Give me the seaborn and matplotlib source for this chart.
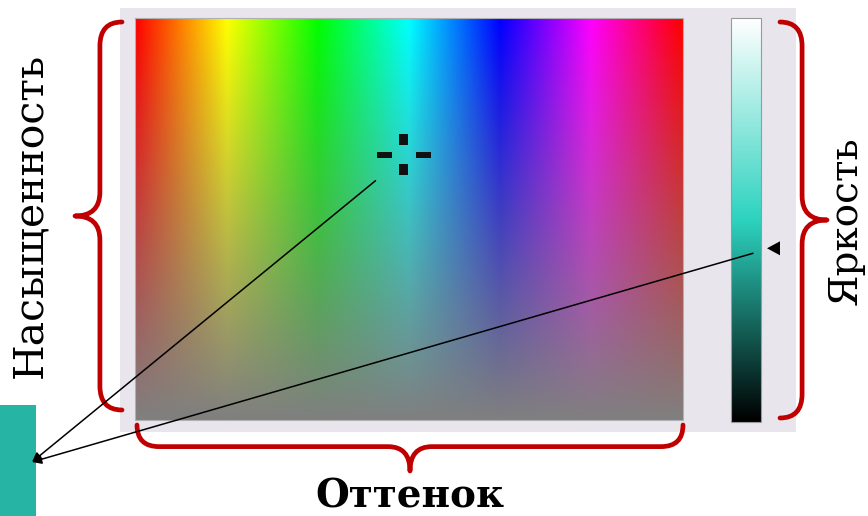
"""
Colour picker diagram: hue / saturation field, brightness strip and the
resulting swatch, with braces naming each axis.
"""

import colorsys

import matplotlib.pyplot as plt
import numpy as np
import seaborn as sns
from matplotlib.patches import PathPatch, Polygon, Rectangle
from matplotlib.path import Path

sns.set_theme(style="white")
plt.rcParams["font.family"] = ["DejaVu Serif", "DejaVu Sans"]

# --- data -----------------------------------------------------------------
hue_label = "Оттенок"
sat_label = "Насыщенность"
lum_label = "Яркость"

picked_hue = 0.49          # fraction of the hue axis (left -> right)
picked_sat = 0.66          # saturation at the cross (top = 1)
picked_hls = (173 / 360, 0.43, 0.65)   # hue, lightness, saturation of the swatch
swatch_color = "#26b5a5"

RED = "#c00000"
PANEL = "#e8e6ec"

# --- geometry (pixels) ----------------------------------------------------
W, H = 868, 516
spec = (135, 683, 18, 420)     # left, right, top, bottom
strip = (731, 761, 18, 422)


def hsl_field(hues, sats, light):
    rgb = np.zeros((len(sats), len(hues), 3))
    for i, s in enumerate(sats):
        for j, h in enumerate(hues):
            rgb[i, j] = colorsys.hls_to_rgb(h, light, s)
    return rgb


def brace(ax, p0, p1, depth, r, lw=3.4):
    """Curly brace from p0 to p1, tip pointing to the left of p0->p1."""
    p0, p1 = np.array(p0, float), np.array(p1, float)
    L = np.linalg.norm(p1 - p0)
    u = (p1 - p0) / L
    n = np.array([u[1], -u[0]])
    mid = depth * 0.47

    def P(a, b):
        return p0 + a * u + b * n

    verts = [
        P(0, 0), P(0, mid), P(r, mid),
        P(L / 2 - r, mid), P(L / 2, mid), P(L / 2, depth),
        P(L / 2, mid), P(L / 2 + r, mid),
        P(L - r, mid), P(L, mid), P(L, 0),
    ]
    codes = [Path.MOVETO, Path.CURVE3, Path.CURVE3,
             Path.LINETO, Path.CURVE3, Path.CURVE3,
             Path.CURVE3, Path.CURVE3,
             Path.LINETO, Path.CURVE3, Path.CURVE3]
    ax.add_patch(PathPatch(Path(verts, codes), fill=False, ec=RED, lw=lw,
                           capstyle="round", joinstyle="round", zorder=4))


fig = plt.figure(figsize=(W / 100, H / 100), dpi=100)
ax = fig.add_axes([0, 0, 1, 1])

# grey dialog panel
ax.add_patch(Rectangle((120, 8), 676, 424, fc=PANEL, ec="none", zorder=0))

# hue / saturation field
hues = np.linspace(0, 1, 300)
sats = np.linspace(1, 0, 120)
ax.imshow(hsl_field(hues, sats, 0.5), extent=(spec[0], spec[1], spec[3], spec[2]),
          aspect="auto", interpolation="bilinear", zorder=1)
ax.add_patch(Rectangle((spec[0], spec[2]), spec[1] - spec[0], spec[3] - spec[2],
                       fill=False, ec="#b0b0b0", lw=0.8, zorder=2))

# brightness strip for the picked colour
lights = np.linspace(1, 0, 150)
col = np.array([colorsys.hls_to_rgb(picked_hls[0], l, picked_hls[2]) for l in lights])
ax.imshow(col[:, None, :], extent=(strip[0], strip[1], strip[3], strip[2]),
          aspect="auto", interpolation="bilinear", zorder=1)
ax.add_patch(Rectangle((strip[0], strip[2]), strip[1] - strip[0], strip[3] - strip[2],
                       fill=False, ec="#9a9a9a", lw=0.8, zorder=2))

# cross-hair at the picked point
cx = spec[0] + picked_hue * (spec[1] - spec[0])
cy = spec[3] - picked_sat * (spec[3] - spec[2])
for dx, dy, w, h in [(-4.5, -21, 9, 11), (-4.5, 9, 9, 11),
                     (-27, -3, 15, 6), (12, -3, 15, 6)]:
    ax.add_patch(Rectangle((cx + dx, cy + dy), w, h, fc="#111111", ec="none", zorder=3))

# brightness marker
ly = strip[2] + (1 - picked_hls[1]) * (strip[3] - strip[2])
ax.add_patch(Polygon([(767, ly), (780, ly - 7), (780, ly + 7)], closed=True,
                     fc="black", ec="none", zorder=3))

# swatch
ax.add_patch(Rectangle((0, 405), 36, 111, fc=swatch_color, ec="none", zorder=1))

# arrows to the swatch
arrow = dict(arrowstyle="-|>", color="black", lw=1.1, mutation_scale=14,
             shrinkA=0, shrinkB=0)
ax.annotate("", xy=(32, 462), xytext=(cx - 28, cy + 26), arrowprops=arrow, zorder=5)
ax.annotate("", xy=(32, 462), xytext=(753, ly + 5), arrowprops=arrow, zorder=5)

# braces
brace(ax, (122, 410), (122, 22), 47, 24)
brace(ax, (780, 22), (780, 418), 47, 24)
brace(ax, (683, 425), (137, 425), 46, 22)

# labels
ax.text(30, 215, sat_label, rotation=90, ha="center", va="center",
        fontsize=29.5, color="black")
ax.text(846, 221, lum_label, rotation=90, ha="center", va="center",
        fontsize=28, color="black")
ax.text(410, 497, hue_label, ha="center", va="center",
        fontsize=28, fontweight="bold", color="black")

ax.set_xlim(0, W)
ax.set_ylim(H, 0)
ax.axis("off")

fig.savefig("out.png", dpi=100)
plt.close(fig)
